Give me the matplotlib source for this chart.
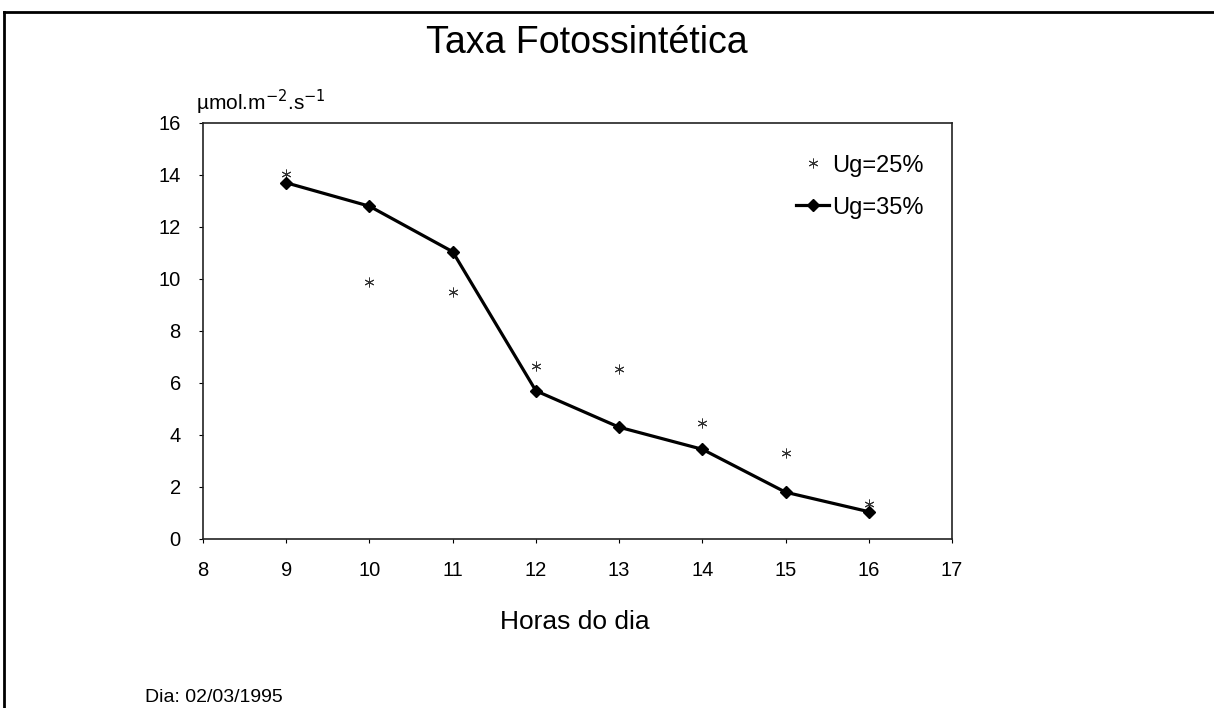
import matplotlib.pyplot as plt
from matplotlib.lines import Line2D

plt.rcParams['font.family'] = ['Liberation Sans', 'DejaVu Sans']

horas = [9, 10, 11, 12, 13, 14, 15, 16]
ug25 = [14.05, 9.9, 9.5, 6.65, 6.55, 4.45, 3.3, 1.35]
ug35 = [13.7, 12.8, 11.05, 5.7, 4.3, 3.45, 1.8, 1.05]
xticks = [8, 9, 10, 11, 12, 13, 14, 15, 16, 17]
yticks = [0, 2, 4, 6, 8, 10, 12, 14, 16]

W, H = 1214, 708
fig = plt.figure(figsize=(W / 100, H / 100), dpi=100)
ax = fig.add_axes([203 / W, 1 - 539 / H, (952 - 203) / W, (539 - 123) / H])

star = (6, 2, 0)
ax.plot(horas, ug25, linestyle='none', marker=star, markersize=7,
        markeredgecolor='#333333', markeredgewidth=0.7, label='Ug=25%')
ax.plot(horas, ug35, color='black', linewidth=2.3, marker='D', markersize=6,
        label='Ug=35%')

ax.set_xlim(8, 17)
ax.set_ylim(0, 16)
ax.set_xticks(xticks)
ax.set_yticks(yticks)
ax.tick_params(labelsize=14.5, length=3, width=0.8, color='black')
ax.tick_params(axis='x', pad=13)
ax.tick_params(axis='y', pad=13)
for s in ax.spines.values():
    s.set_linewidth(1.2)
    s.set_color('#222222')

handles = [
    Line2D([], [], linestyle='none', marker=star, markersize=7,
           markeredgecolor='#333333', markeredgewidth=0.7),
    Line2D([], [], color='black', linewidth=2.3, marker='D', markersize=6),
]
ax.legend(handles, ['Ug=25%', 'Ug=35%'], loc='upper right', frameon=False,
          fontsize=17, handlelength=1.4, handletextpad=0.1, labelspacing=0.85,
          bbox_to_anchor=(0.99, 0.975))

fig.text(587 / W, 1 - 43 / H, 'Taxa Fotossintética', fontsize=27,
         ha='center', va='center')
fig.text(196 / W, 1 - 102 / H, 'µmol.m$^{-2}$.s$^{-1}$', fontsize=15,
         ha='left', va='center')
fig.text(575 / W, 1 - 622 / H, 'Horas do dia', fontsize=19,
         ha='center', va='center')
fig.text(145 / W, 1 - 697 / H, 'Dia: 02/03/1995', fontsize=14,
         ha='left', va='center')

# outer frame of the scanned chart
fig.add_artist(Line2D([4 / W, 4 / W], [0, 1 - 12 / H], color='black',
                      linewidth=2, transform=fig.transFigure))
fig.add_artist(Line2D([4 / W, 1], [1 - 12 / H, 1 - 12 / H], color='black',
                      linewidth=2, transform=fig.transFigure))

fig.savefig('out.png', dpi=100)
